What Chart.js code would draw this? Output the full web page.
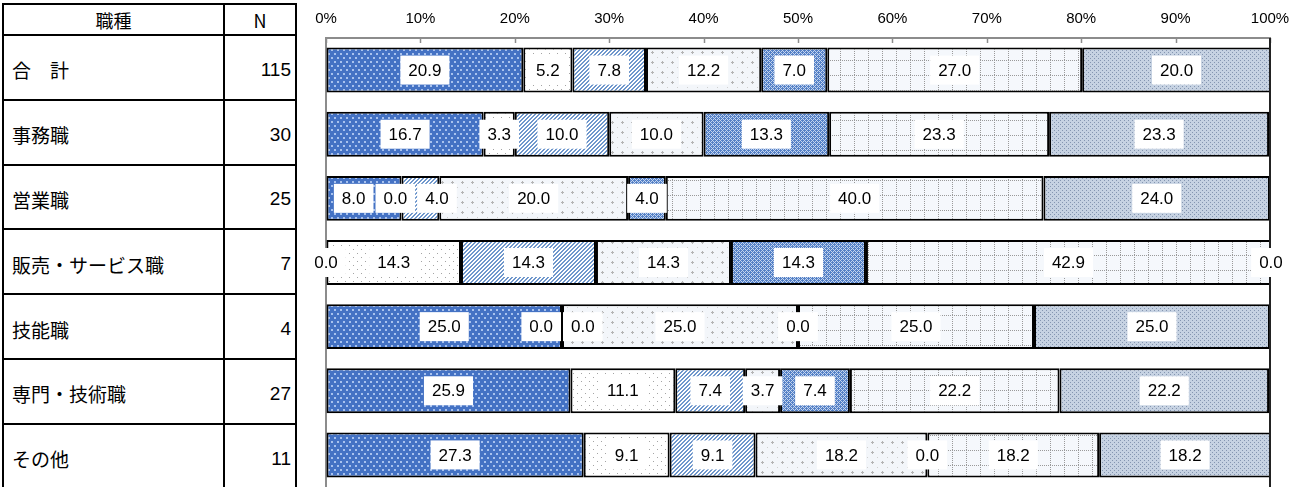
<!DOCTYPE html>
<html>
<head>
<meta charset="utf-8">
<title>職種別</title>
<style>
	html, body {
		margin: 0;
		padding: 0;
		width: 1303px;
		height: 487px;
		overflow: hidden;
		background: #fff;
	}
	.wrap {
		position: relative;
		width: 1303px;
		height: 487px;
	}
	canvas {
		position: absolute;
		left: 0;
		top: 0;
	}
	table {
		position: absolute;
		left: 2px;
		top: 3px;
		border-collapse: collapse;
		color: #000;
	}
	table th, table td {
		border: 2px solid #000;
		padding: 0;
		font-weight: normal;
		box-sizing: border-box;
	}
	table th {
		height: 31px;
		font-family: "Noto Sans CJK JP", sans-serif;
		font-size: 18px;
		line-height: 20px;
		text-align: center;
	}
	.job {
		width: 221px;
		height: 64.8px;
		font-family: "Noto Sans CJK JP", sans-serif;
		font-size: 19px;
		text-align: left;
		padding-left: 8px;
		padding-top: 5px;
	}
	.n {
		width: 72px;
		font-family: "Liberation Sans", Arial, sans-serif;
		font-size: 19px;
		text-align: right;
		padding-right: 4px;
		padding-top: 5px;
	}
</style>
</head>
<body>
<div class="wrap">
	<table>
		<thead>
			<tr><th>職種</th><th>N</th></tr>
		</thead>
		<tbody class="rows"></tbody>
	</table>
	<canvas id="chart" width="1303" height="487"></canvas>
</div>
<script src="https://cdn.jsdelivr.net/npm/chart.js@4/dist/chart.umd.min.js"></script>
<script>
	const jobs = ["合　計", "事務職", "営業職", "販売・サービス職", "技能職", "専門・技術職", "その他"];
	const counts = [115, 30, 25, 7, 4, 27, 11];
	const s1 = [20.9, 16.7, 8.0, 0.0, 25.0, 25.9, 27.3];
	const s2 = [5.2, 3.3, 0.0, 14.3, 0.0, 11.1, 9.1];
	const s3 = [7.8, 10.0, 4.0, 14.3, 0.0, 7.4, 9.1];
	const s4 = [12.2, 10.0, 20.0, 14.3, 25.0, 3.7, 18.2];
	const s5 = [7.0, 13.3, 4.0, 14.3, 0.0, 7.4, 0.0];
	const s6 = [27.0, 23.3, 40.0, 42.9, 25.0, 22.2, 18.2];
	const s7 = [20.0, 23.3, 24.0, 0.0, 25.0, 22.2, 18.2];
	const xTicks = [0, 10, 20, 30, 40, 50, 60, 70, 80, 90, 100];

	// left table
	const tbody = document.querySelector(".rows");
	jobs.forEach((j, i) => {
		const tr = document.createElement("tr");
		const a = document.createElement("td");
		const b = document.createElement("td");
		a.className = "job";
		b.className = "n";
		a.innerText = j;
		b.innerText = counts[i];
		tr.appendChild(a);
		tr.appendChild(b);
		tbody.appendChild(tr);
	});

	// fill patterns
	const makePattern = (w, h, bg, draw) => {
		const c = document.createElement("canvas");
		c.width = w;
		c.height = h;
		const g = c.getContext("2d");
		g.fillStyle = bg;
		g.fillRect(0, 0, w, h);
		draw(g);
		return document.getElementById("chart").getContext("2d").createPattern(c, "repeat");
	};
	const px = (g, col, pts) => {
		g.fillStyle = col;
		pts.forEach(p => g.fillRect(p[0], p[1], p[2] || 1, p[3] || 1));
	};

	const pat1 = makePattern(6, 8, "#4472c4", g => px(g, "#a8c2ee", [[1, 1, 2, 2], [4, 5, 2, 2]]));
	const pat2 = makePattern(8, 8, "#ffffff", g => px(g, "#a4a4a4", [[1, 1], [5, 5]]));
	const pat3 = makePattern(4, 4, "#ffffff", g => {
		for (let x = 0; x < 4; x++) for (let y = 0; y < 4; y++)
			if ((x + y) % 4 < 2) px(g, "#6f97cc", [[x, y]]);
	});
	const pat4 = makePattern(10, 10, "#f3f6fa", g => {
		px(g, "#b4b4b4", [[2, 1], [1, 2], [2, 2], [3, 2], [2, 3]]);
		px(g, "#cfcfcf", [[7, 7]]);
	});
	const pat5 = makePattern(4, 4, "#5581c6", g => {
		for (let x = 0; x < 4; x++) for (let y = 0; y < 4; y++)
			if ((x + y) % 4 === 0 || ((x - y) % 4 + 4) % 4 === 0) px(g, "#c3d4ef", [[x, y]]);
	});
	const pat6 = makePattern(14, 15, "#f5f8fc", g => {
		for (let y = 0; y < 15; y += 2) px(g, "#9a9a9a", [[0, y]]);
		for (let x = 0; x < 14; x += 2) px(g, "#9a9a9a", [[x, 0]]);
	});
	const pat7 = makePattern(4, 4, "#c6d2e2", g => px(g, "#8495b0", [[0, 0], [2, 2]]));

	const series = [s1, s2, s3, s4, s5, s6, s7];
	const fills = [pat1, pat2, pat3, pat4, pat5, pat6, pat7];

	const labelFont = "17px 'Liberation Sans', Arial, sans-serif";

	const frame = {
		id: "frame",
		afterDatasetsDraw(chart) {
			const ctx = chart.ctx;
			const a = chart.chartArea;
			const sx = chart.scales.x;
			ctx.save();
			ctx.strokeStyle = "#8c8c8c";
			ctx.lineWidth = 1.5;
			xTicks.forEach(t => {
				const x = Math.round(sx.getPixelForValue(t)) + 0.5;
				ctx.beginPath();
				ctx.moveTo(x, a.top);
				ctx.lineTo(x, a.top + 5);
				ctx.stroke();
			});
			ctx.strokeStyle = "#222";
			ctx.lineWidth = 2;
			ctx.beginPath();
			ctx.moveTo(a.right, a.top);
			ctx.lineTo(a.right, a.bottom);
			ctx.stroke();
			ctx.restore();
		}
	};

	const segLabels = {
		id: "segLabels",
		afterDatasetsDraw(chart) {
			const ctx = chart.ctx;
			ctx.save();
			ctx.font = labelFont;
			ctx.textAlign = "center";
			ctx.textBaseline = "middle";
			for (let i = 0; i < jobs.length; i++) {
				const boxes = [];
				chart.data.datasets.forEach((ds, d) => {
					const bar = chart.getDatasetMeta(d).data[i];
					const v = ds.data[i];
					const text = v.toFixed(1);
					const w = ctx.measureText(text).width + 16;
					const x = v === 0 ? bar.x : (bar.x + bar.base) / 2;
					boxes.push({ x, y: bar.y, w, text });
				});
				// push overlapping boxes apart
				for (let k = 0; k < 40; k++) {
					for (let j = 1; j < boxes.length; j++) {
						const a = boxes[j - 1], b = boxes[j];
						const over = (a.x + a.w / 2 + 2) - (b.x - b.w / 2);
						if (over > 0) {
							a.x -= over / 2;
							b.x += over / 2;
						}
					}
				}
				boxes.forEach(b => {
					ctx.fillStyle = "#fff";
					ctx.fillRect(b.x - b.w / 2, b.y - 14.5, b.w, 29);
					ctx.fillStyle = "#000";
					ctx.fillText(b.text, b.x, b.y + 1);
				});
			}
			ctx.restore();
		}
	};

	new Chart(document.getElementById("chart"), {
		type: "bar",
		data: {
			labels: jobs,
			datasets: series.map((s, i) => ({
				label: "区分" + (i + 1),
				data: s,
				backgroundColor: fills[i],
				borderColor: "#000",
				borderWidth: 2,
				borderSkipped: false,
				barPercentage: 0.7,
				categoryPercentage: 1
			}))
		},
		options: {
			indexAxis: "y",
			responsive: false,
			animation: false,
			layout: {
				padding: { left: 326, right: 33, top: 0, bottom: 0 }
			},
			plugins: {
				legend: { display: false },
				tooltip: { enabled: false }
			},
			scales: {
				x: {
					type: "linear",
					position: "top",
					stacked: true,
					min: 0,
					max: 100,
					afterBuildTicks: s => { s.ticks = xTicks.map(v => ({ value: v })); },
					ticks: {
						callback: v => v + "%",
						color: "#000",
						padding: 10,
						maxRotation: 0,
						font: { family: "'Liberation Sans', Arial, sans-serif", size: 15 }
					},
					grid: { drawOnChartArea: false, drawTicks: false },
					border: { color: "#8c8c8c", width: 2 }
				},
				y: {
					stacked: true,
					ticks: { display: false },
					grid: { display: false, drawTicks: false },
					border: { color: "#8c8c8c", width: 2 }
				}
			}
		},
		plugins: [frame, segLabels]
	});
</script>
</body>
</html>
